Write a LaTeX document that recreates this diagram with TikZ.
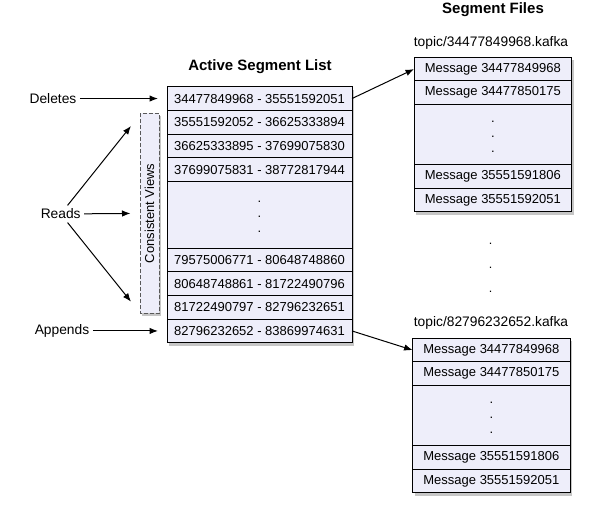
\documentclass[tikz,border=0pt]{standalone}
\usepackage{fontspec}
\setmainfont{Liberation Sans}
\usetikzlibrary{arrows.meta,shadows,backgrounds}

\definecolor{lav}{RGB}{238,238,250}
\newcommand{\segdots}{\strut.\\\strut.\\\strut.}

\tikzset{
  seg/.style={draw=black, line width=0.9pt, fill=lav, minimum width=185pt,
    minimum height=23.7pt, inner sep=0pt, outer sep=0pt,
    font=\fontsize{13}{15}\selectfont},
  segbig/.style={seg, minimum height=66.5pt, align=center},
  msg/.style={seg, minimum width=157.5pt, minimum height=23.6pt},
  msgbig/.style={msg, minimum height=60pt, align=center},
  lbl/.style={font=\fontsize{13.8}{15}\selectfont},
  ttl/.style={font=\fontsize{15}{17}\selectfont\bfseries},
  arr/.style={-{Latex[length=8.5pt,width=6.5pt]}, line width=1pt},
  shade/.style={fill=white, drop shadow={opacity=0.45, shadow xshift=2pt, shadow yshift=-3pt}},
  views/.style={draw=black!65, dash pattern=on 4pt off 2pt, line width=0.9pt, fill=lav, rotate=90,
    minimum width=200pt, minimum height=19.3pt, inner sep=0pt,
    font=\fontsize{13}{15}\selectfont,
    drop shadow={opacity=0.45, shadow xshift=2pt, shadow yshift=-3pt}}
}

\begin{document}
\begin{tikzpicture}[x=1pt, y=-1pt]
    \useasboundingbox (0, 0) rectangle (597, 510);

    % titles
    \draw (260, 67) node[ttl](ttlist){Active Segment List}
       (493, 10) node[ttl](ttfiles){Segment Files}
       (491, 43) node[lbl](topic1){topic/34477849968.kafka}
       (491, 323) node[lbl](topic2){topic/82796232652.kafka};

    % active segment list
    \draw (259.5, 98.55) node[seg](s1){34477849968 - 35551592051}
       (259.5, 122.25) node[seg](s2){35551592052 - 36625333894}
       (259.5, 145.95) node[seg](s3){36625333895 - 37699075830}
       (259.5, 169.65) node[seg](s4){37699075831 - 38772817944}
       (259.5, 214.75) node[segbig](s5){\segdots}
       (259.5, 259.85) node[seg](s6){79575006771 - 80648748860}
       (259.5, 283.55) node[seg](s7){80648748861 - 81722490796}
       (259.5, 307.25) node[seg](s8){81722490797 - 82796232651}
       (259.5, 330.95) node[seg](s9){82796232652 - 83869974631};

    % first segment file
    \draw (492.85, 69.1) node[msg](f1){Message 34477849968}
       (492.85, 92.7) node[msg](f2){Message 34477850175}
       (492.85, 134.5) node[msgbig](f3){\segdots}
       (492.85, 176.3) node[msg](f4){Message 35551591806}
       (492.85, 199.9) node[msg](f5){Message 35551592051};

    % last segment file
    \draw (491.35, 350.1) node[msg](g1){Message 34477849968}
       (491.35, 373.7) node[msg](g2){Message 34477850175}
       (491.35, 415.5) node[msgbig](g3){\segdots}
       (491.35, 457.3) node[msg](g4){Message 35551591806}
       (491.35, 480.9) node[msg](g5){Message 35551592051};

    \draw (490.7, 263.8) node[align=center, font=\fontsize{12.5}{23.6}\selectfont](gap){\segdots};

    \begin{scope}[on background layer]
       \path[shade] (s1.north west) rectangle (s9.south east);
       \path[shade] (f1.north west) rectangle (f5.south east);
       \path[shade] (g1.north west) rectangle (g5.south east);
    \end{scope}

    % operations
    \draw (149.6, 213.3) node[views](views){Consistent Views};
    \draw (53, 98.55) node[lbl](del){Deletes}
       (60.7, 214) node[lbl](reads){Reads}
       (62, 330.95) node[lbl](app){Appends};
    \coordinate (r1) at (131, 126);
    \coordinate (r2) at (131, 301.7);

    \draw[arr, shorten >=9pt] (del) -- (s1);
    \draw[arr, shorten >=9pt] (app) -- (s9);
    \draw[arr, shorten >=9pt] (reads) -- (views);
    \draw[arr] (reads) -- (r1);
    \draw[arr] (reads) -- (r2);
    \draw[arr] (s1.east) -- (f1.west);
    \draw[arr] (s9.east) -- (g1.west);
\end{tikzpicture}
\end{document}
